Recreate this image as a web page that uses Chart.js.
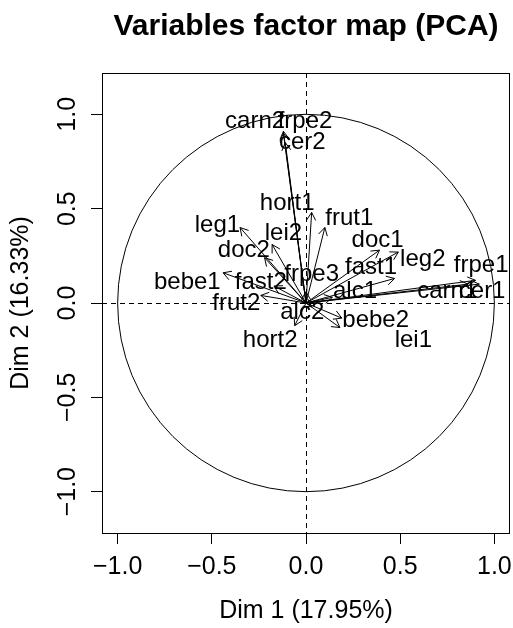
<!DOCTYPE html>
<html>
<head>
<meta charset="utf-8">
<script src="https://cdn.jsdelivr.net/npm/chart.js@4.4.1/dist/chart.umd.min.js"></script>
<style>
  html, body { margin: 0; padding: 0; background: #fff; }
</style>
</head>
<body>
<canvas id="chart_plot" width="513" height="628"></canvas>
<script>
// variables and their coordinates on dim 1 / dim 2
var variables = ['carn1', 'carn2', 'cer1', 'cer2', 'frpe1', 'frpe2', 'frpe3', 'frut1', 'frut2', 'hort1', 'hort2',
                 'leg1', 'leg2', 'lei1', 'lei2', 'doc1', 'doc2', 'fast1', 'fast2', 'alc1', 'alc2', 'bebe1', 'bebe2'];
var dim1 = [0.86, -0.12, 0.92, -0.11, 0.90, -0.12, 0.00, 0.10, -0.24, 0.03, -0.06,
            -0.35, 0.49, 0.18, -0.18, 0.39, -0.22, 0.47, -0.17, 0.14, 0.03, -0.44, 0.19];
var dim2 = [0.10, 0.91, 0.10, 0.85, 0.12, 0.90, 0.06, 0.40, 0.04, 0.48, -0.12,
            0.40, 0.27, -0.13, 0.31, 0.28, 0.24, 0.13, 0.09, 0.03, -0.02, 0.16, -0.08];
// where the labels sit (moved apart like autoLab does)
var labelDim1 = [0.75, -0.27, 0.935, -0.02, 0.93, -0.005, 0.03, 0.23, -0.37, -0.10, -0.19,
                 -0.47, 0.62, 0.57, -0.12, 0.38, -0.33, 0.345, -0.24, 0.26, -0.02, -0.63, 0.37];
var labelDim2 = [0.06, 0.96, 0.06, 0.85, 0.20, 0.96, 0.15, 0.45, 0.0, 0.53, -0.20,
                 0.41, 0.23, -0.20, 0.37, 0.33, 0.28, 0.19, 0.11, 0.06, -0.05, 0.11, -0.09];
var xTicks = [-1, -0.5, 0, 0.5, 1];
var yTicks = [-1, -0.5, 0, 0.5, 1];

var FONT = '"Liberation Sans", Arial, Helvetica, sans-serif';
Chart.defaults.font.family = FONT;
Chart.defaults.color = '#000';

function fmt(v) {
    var s = Math.abs(v).toFixed(1);
    return v < 0 ? '\u2212' + s : s;
}

let datasets = [];
variables.forEach(function(name, i) {
    datasets.push({
        label: name,
        data: [{x: 0, y: 0}, {x: dim1[i], y: dim2[i]}],
        showLine: true,
        borderColor: '#000',
        borderWidth: 1,
        pointRadius: 0,
        pointHoverRadius: 0
    });
});

const pcaDecor = {
    id: 'pcaDecor',
    beforeDatasetsDraw: function(chart) {
        const ctx = chart.ctx, a = chart.chartArea;
        const xs = chart.scales.x, ys = chart.scales.y;
        const x0 = xs.getPixelForValue(0), y0 = ys.getPixelForValue(0);
        ctx.save();
        ctx.strokeStyle = '#000';
        ctx.lineWidth = 1;
        // unit circle
        ctx.beginPath();
        ctx.ellipse(x0, y0, xs.getPixelForValue(1) - x0, y0 - ys.getPixelForValue(1), 0, 0, 2 * Math.PI);
        ctx.stroke();
        // dashed axes through the origin
        ctx.setLineDash([5, 4]);
        ctx.beginPath();
        ctx.moveTo(a.left, Math.round(y0) + 0.5);
        ctx.lineTo(a.right, Math.round(y0) + 0.5);
        ctx.moveTo(Math.round(x0) + 0.5, a.top);
        ctx.lineTo(Math.round(x0) + 0.5, a.bottom);
        ctx.stroke();
        ctx.restore();
    },
    afterDatasetsDraw: function(chart) {
        const ctx = chart.ctx, a = chart.chartArea;
        const xs = chart.scales.x, ys = chart.scales.y;
        ctx.save();
        ctx.strokeStyle = '#000';
        ctx.lineWidth = 1;
        // arrow heads
        chart.data.datasets.forEach(function(ds, i) {
            const pts = chart.getDatasetMeta(i).data;
            const p0 = pts[0], p1 = pts[1];
            const ang = Math.atan2(p1.y - p0.y, p1.x - p0.x);
            const len = 9, spread = Math.PI / 6;
            ctx.beginPath();
            ctx.moveTo(p1.x - len * Math.cos(ang - spread), p1.y - len * Math.sin(ang - spread));
            ctx.lineTo(p1.x, p1.y);
            ctx.lineTo(p1.x - len * Math.cos(ang + spread), p1.y - len * Math.sin(ang + spread));
            ctx.stroke();
        });
        // variable labels
        ctx.fillStyle = '#000';
        ctx.font = '24px ' + FONT;
        ctx.textAlign = 'center';
        ctx.textBaseline = 'middle';
        variables.forEach(function(name, i) {
            ctx.fillText(name, xs.getPixelForValue(labelDim1[i]), ys.getPixelForValue(labelDim2[i]));
        });
        // box
        ctx.strokeRect(Math.round(a.left) + 0.5, Math.round(a.top) + 0.5,
                       Math.round(a.right - a.left) - 1, Math.round(a.bottom - a.top));
        // y tick labels, parallel to the axis
        ctx.font = '25px ' + FONT;
        ctx.textBaseline = 'alphabetic';
        yTicks.forEach(function(v) {
            ctx.save();
            ctx.translate(75, ys.getPixelForValue(v));
            ctx.rotate(-Math.PI / 2);
            ctx.fillText(fmt(v), 0, 0);
            ctx.restore();
        });
        ctx.restore();
    }
};

var myChart = new Chart(document.getElementById('chart_plot'), {
    type: 'scatter',
    data: { datasets: datasets },
    plugins: [pcaDecor],
    options: {
        responsive: false,
        animation: false,
        devicePixelRatio: 1,
        layout: { padding: { right: 3 } },
        plugins: {
            legend: { display: false },
            tooltip: { enabled: false },
            title: {
                display: true,
                fullSize: false,
                text: 'Variables factor map (PCA)',
                font: { size: 30, weight: 'bold' },
                color: '#000',
                padding: { top: 9, bottom: 28 }
            }
        },
        scales: {
            x: {
                type: 'linear',
                min: -1.083,
                max: 1.083,
                afterBuildTicks: function(scale) {
                    scale.ticks = xTicks.map(function(v) { return {value: v}; });
                },
                afterFit: function(scale) {
                    scale.height = 95;
                    scale.paddingLeft = 0;
                    scale.paddingRight = 0;
                },
                ticks: {
                    callback: function(v) { return fmt(v); },
                    font: { size: 25 },
                    color: '#000',
                    padding: 8,
                    maxRotation: 0,
                    autoSkip: false
                },
                grid: { drawOnChartArea: false, drawTicks: true, tickLength: 11, color: '#000' },
                border: { display: false },
                title: {
                    display: true,
                    text: 'Dim 1 (17.95%)',
                    font: { size: 25 },
                    color: '#000',
                    padding: { top: 0, bottom: 2 }
                }
            },
            y: {
                type: 'linear',
                min: -1.219,
                max: 1.219,
                afterBuildTicks: function(scale) {
                    scale.ticks = yTicks.map(function(v) { return {value: v}; });
                },
                afterFit: function(scale) {
                    scale.width = 102;
                    scale.paddingTop = 0;
                    scale.paddingBottom = 0;
                },
                ticks: { display: false },
                grid: { drawOnChartArea: false, drawTicks: true, tickLength: 11, color: '#000' },
                border: { display: false },
                title: {
                    display: true,
                    text: 'Dim 2 (16.33%)',
                    font: { size: 25 },
                    color: '#000',
                    padding: { top: 6, bottom: 0 }
                }
            }
        }
    }
});
</script>
</body>
</html>
